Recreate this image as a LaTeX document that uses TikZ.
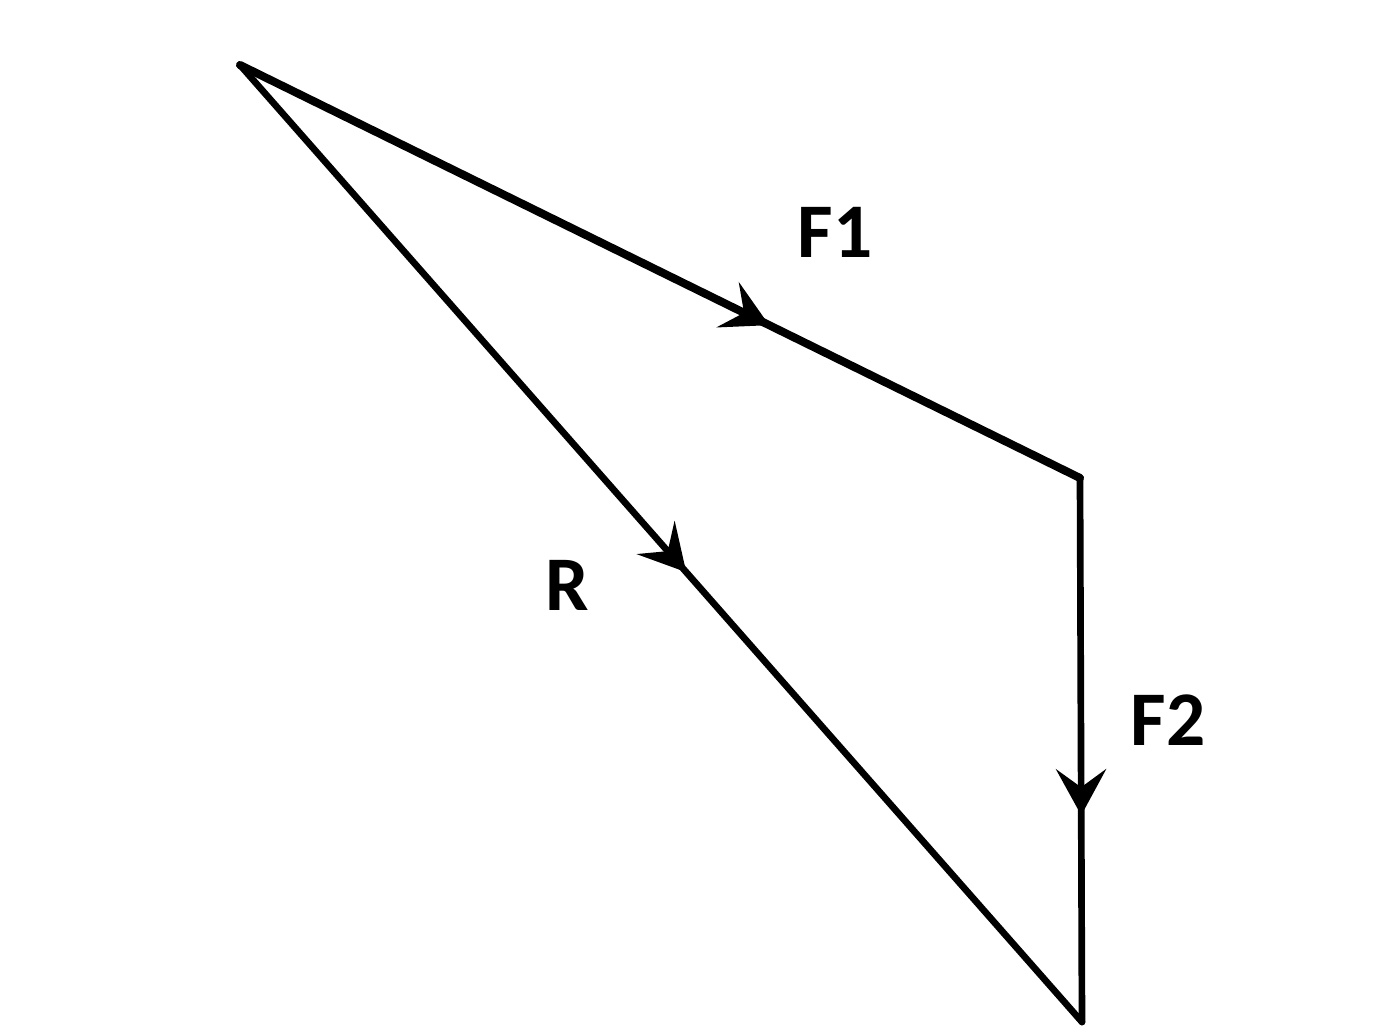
\documentclass[tikz,border=0pt]{standalone}
\usepackage{fontspec}
\setmainfont{Carlito}
\usetikzlibrary{arrows.meta, positioning, decorations.markings}

\tikzset{
  vec/.style={line width=1.9pt, line cap=round, line join=miter,
    postaction={decorate},
    decoration={markings, mark=at position #1 with
      {\arrow{Stealth[length=4.6mm, width=5mm, inset=1.8mm]}}}},
  lbl/.style={font=\fontsize{22}{24}\selectfont\bfseries}
}

\begin{document}
\begin{tikzpicture}
  \useasboundingbox (0,0) rectangle (13.85,10.30);

  \coordinate (A) at (2.40,9.65);
  \coordinate (B) at (10.80,5.52);
  \coordinate (C) at (10.82,0.08);

  \draw[vec=0.63, line width=2.3pt] (A) -- (B);
  \draw[vec=0.62] (B) -- (C);
  \draw[vec=0.53] (A) -- (C);

  \node[lbl] (f1) at (8.35,7.98) {F1};
  \node[lbl] (f2) at (11.68,3.10) {F2};
  \node[lbl] (r) at (5.67,4.45) {R};
\end{tikzpicture}
\end{document}
